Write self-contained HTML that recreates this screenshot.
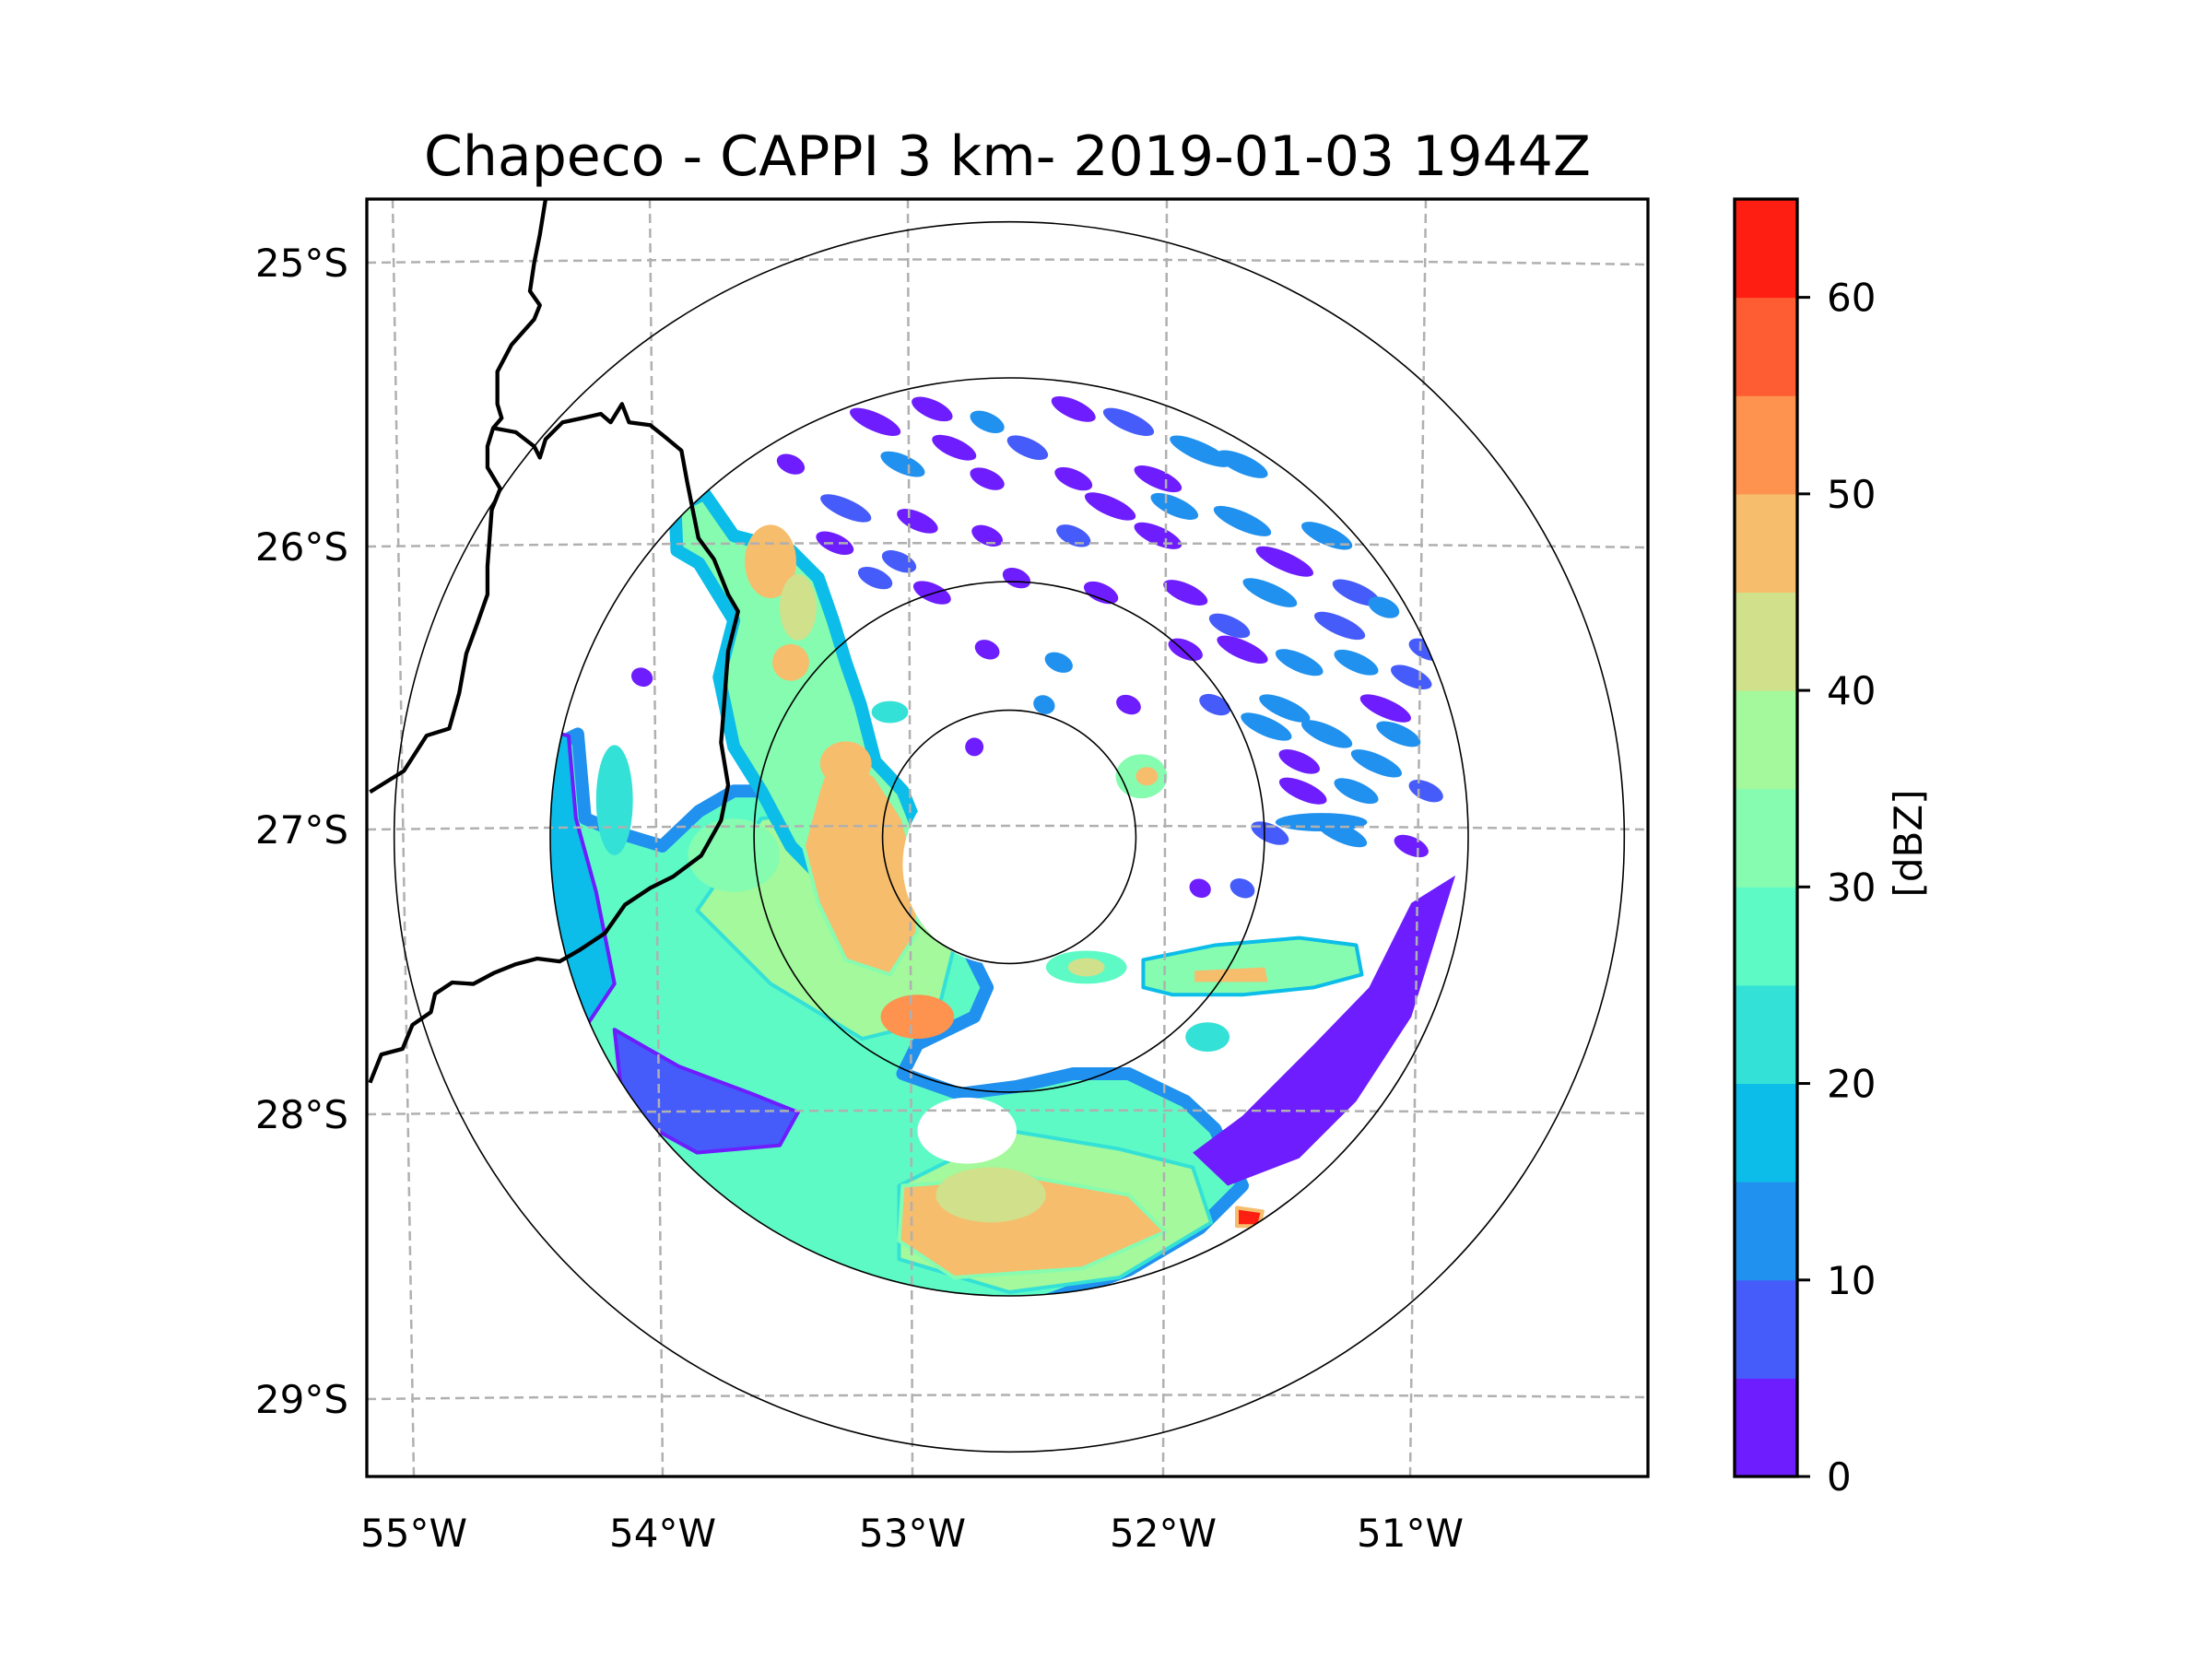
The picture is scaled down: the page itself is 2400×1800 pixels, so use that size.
<!DOCTYPE html>
<html><head><meta charset="utf-8"><style>
html,body{margin:0;padding:0;background:#fff;}
svg{display:block;}
text{font-family:"DejaVu Sans","Liberation Sans",sans-serif;fill:#000;}
</style></head><body>
<svg id="fig" width="2400" height="1800" viewBox="0 0 2400 1800" xmlns="http://www.w3.org/2000/svg">
<rect width="2400" height="1800" fill="#fff"/>
<text x="1093" y="190" font-size="60" text-anchor="middle">Chapeco - CAPPI 3 km- 2019-01-03 1944Z</text>
<defs><clipPath id="radarClip"><circle cx="1095" cy="908" r="498"/></clipPath>
<clipPath id="axClip"><rect x="398" y="216" width="1390" height="1386"/></clipPath></defs>
<g id="echoes" clip-path="url(#radarClip)"></g>
<g id="grid" clip-path="url(#axClip)"></g>
<g id="rings" clip-path="url(#axClip)"></g>
<g clip-path="url(#axClip)">
<g transform="matrix(1.536,0,0,1.531,-1,2)" fill="none" stroke="#000" stroke-width="2.8" stroke-linejoin="round">
<polyline points="386,140 382,165 378,185 375,205 382,215 378,225 362,243 352,262 352,285 355,295 349,302 345,315 345,330 354,345 348,360 345,400 345,420 338,440 330,462 325,490 318,515 302,520 286,545 262,560"/>
<polyline points="349,302 365,305 378,315 382,323 386,310 398,298 412,295 425,292 432,298 440,285 445,298 460,300 470,308 482,318 486,340 490,360 494,380 505,395 515,420 522,432 515,460 512,500 510,525 515,555 510,580 496,605 476,620 460,628 442,640 428,660 410,672 396,680 380,678 365,682 350,688 335,696 320,695 308,703 305,716 292,725 285,742 270,746 262,766"/>
</g></g>
<rect x="398" y="216" width="1390" height="1386" fill="none" stroke="#000" stroke-width="3.3"/>
<g id="ticks"></g>
<g id="cbar"></g>
<text transform="translate(2085,915) rotate(-90)" font-size="42" text-anchor="middle">[dBZ]</text>
</svg>
<script>
// colorbar levels
const levels=[0,5,10,15,20,25,30,35,40,45,50,55,60,65];
const levelColors=["#6d1dfe","#465cfa","#2091ee","#0bbde8","#34e1d6","#5dfac6","#86fcb0","#a3f99b","#d1e08a","#f6bd6c","#fe924f","#fe5c32","#fe1e12"];
const cbarTicks=[0,10,20,30,40,50,60];
// graticule
const latLabels=["25°S","26°S","27°S","28°S","29°S"];
const lonLabels=["55°W","54°W","53°W","52°W","51°W"];
const ringRanges=[69,139,250,335];
// echo polygons: vertices in km east / km north of radar, dBZ value
const polyDbz=[26,3,8,18,36,38,30,48,46,60,32,48];
const polyPts=[
 [[-249,49],[-235,56],[-231,10],[-212,2],[-189,-5],[-169,14],[-150,25],[-127,25],[-89,18],[-58,-5],[-42,-36],[-27,-52],[-12,-82],[-19,-98],[-50,-113],[-58,-129],[-27,-140],[4,-136],[35,-129],[65,-129],[96,-144],[112,-159],[127,-190],[104,-213],[65,-236],[0,-260],[-73,-250],[-135,-220],[-189,-175],[-225,-135],[-255,-82],[-258,-36]],
 [[243,-21],[219,-98],[189,-144],[158,-175],[119,-190],[100,-172],[127,-152],[166,-113],[196,-82],[219,-36]],
 [[-215,-105],[-180,-125],[-140,-140],[-115,-150],[-125,-168],[-170,-172],[-210,-150]],
 [[-260,60],[-240,55],[-236,10],[-225,-30],[-215,-80],[-235,-110],[-262,-80]],
 [[-135,10],[-90,15],[-50,-10],[-30,-60],[-40,-100],[-80,-110],[-130,-80],[-170,-40]],
 [[-60,-190],[0,-160],[60,-170],[100,-180],[110,-210],[60,-240],[0,-248],[-60,-230]],
 [[-182,179],[-166,187],[-150,164],[-119,156],[-104,141],[-96,118],[-89,95],[-81,72],[-73,41],[-58,25],[-46,-5],[-58,-36],[-81,-44],[-119,-5],[-135,25],[-150,49],[-158,87],[-150,118],[-169,149],[-181,156]],
 [[-96,49],[-73,33],[-58,10],[-50,-21],[-50,-52],[-65,-75],[-89,-67],[-104,-36],[-112,-5],[-104,25]],
 [[-58,-190],[10,-185],[65,-195],[85,-215],[40,-235],[-30,-240],[-60,-220]],
 [[124,-202],[138,-204],[136,-212],[124,-212]],
 [[73,-67],[112,-59],[158,-55],[189,-59],[192,-75],[166,-82],[127,-86],[89,-86],[73,-82]],
 [[100,-72],[140,-70],[142,-80],[100,-80]]
];
// elliptical cells: centre km, radii km, dBZ
const cellX=[-130,-119,42,42,72,108,-65,-50,-89,-10,75,-150,-115,-215];
const cellY=[150,95,-71,-71,33,-109,68,-98,40,-195,33,-10,125,20];
const cellRx=[14,10,22,10,14,12,10,20,14,30,6,25,10,10];
const cellRy=[20,10,9,5,12,8,6,12,12,15,5,20,18,30];
const cellDbz=[48,46,28,42,30,20,22,50,46,44,45,34,42,22];
// clear-air gaps (no echo)
const gapX=[-23,-3];const gapY=[-160,-15];const gapRx=[27,55];const gapRy=[18,55];
// NE streak echoes
const streakX=[-73,-42,-12,35,65,104,127,81,35,-12,-58,-89,-50,-12,35,81,127,173,189,142,96,50,4,-42,-73,-12,27,127,158,189,219,173,212,227,189,158,142,181,219,112,96,-104,-200,65,-19,19,127,104,227,204,-119,170,150,200,-30,10,55,90,150,180,205,160,120,140,-95,-60];
const streakY=[226,233,226,233,226,210,203,195,195,195,203,179,172,164,164,164,172,164,133,133,133,133,141,133,141,102,95,102,95,95,87,56,56,25,25,41,2,2,-5,72,102,118,87,72,49,72,-28,-28,102,125,203,8,70,40,212,212,180,180,150,115,70,25,115,60,160,150];
const streakLen=[30,24,20,26,30,36,30,28,22,20,26,30,24,18,20,28,34,30,28,32,26,20,16,22,20,14,16,30,28,26,24,30,26,20,26,24,22,30,20,18,20,16,12,14,10,12,14,12,20,18,16,50,30,30,26,24,30,28,34,30,30,28,24,30,22,20];
const streakDbz=[3,3,12,3,8,14,12,3,3,3,12,8,3,3,8,3,14,12,8,12,3,3,3,3,8,3,12,3,12,14,8,12,14,8,12,3,8,12,3,8,3,3,3,3,3,12,8,3,8,12,3,12,14,12,3,8,3,12,3,8,3,3,8,12,3,8];

const NS='http://www.w3.org/2000/svg';
const CX=1095,CY=908,PXKM=498/250;
const xs=e=>CX+e*PXKM, ys=n=>CY-n*PXKM;
function colorFor(v){for(let i=levels.length-2;i>=0;i--){if(v>=levels[i])return levelColors[i];}return levelColors[0];}
function mk(tag,attrs,parent){const el=document.createElementNS(NS,tag);for(const k in attrs)el.setAttribute(k,attrs[k]);parent.appendChild(el);return el;}
const echoes=document.getElementById('echoes');
for(let i=0;i<streakX.length;i++){
 const el=mk('ellipse',{cx:xs(streakX[i]),cy:ys(streakY[i]),rx:streakLen[i]*PXKM/2,ry:5*PXKM,fill:colorFor(streakDbz[i]),transform:`rotate(${i==51?0:24} ${xs(streakX[i])} ${ys(streakY[i])})`},echoes);
 
 
}
for(let i=0;i<polyPts.length;i++){
 const pts=polyPts[i].map(p=>xs(p[0])+','+ys(p[1])).join(' ');
 const big=(i===0||i===6);
 const el=mk('polygon',{points:pts,fill:colorFor(polyDbz[i]),stroke:colorFor(Math.max(0,polyDbz[i]-15)),'stroke-width':big?14:(polyDbz[i]>5?4:0),'stroke-linejoin':'round'},echoes);
 
 
}
for(let i=0;i<cellX.length;i++){
 const el=mk('ellipse',{cx:xs(cellX[i]),cy:ys(cellY[i]),rx:cellRx[i]*PXKM,ry:cellRy[i]*PXKM,fill:colorFor(cellDbz[i])},echoes);
 
 
}
for(let i=0;i<gapX.length;i++){
 const el=mk('ellipse',{cx:xs(gapX[i]),cy:ys(gapY[i]),rx:gapRx[i]*PXKM,ry:gapRy[i]*PXKM,fill:'#fff'},echoes);
 
 
}
const grid=document.getElementById('grid');
const latY=[285,593,900,1209,1518];
const lonTop=[426,705,985,1266,1547], lonBot=[449,719,990,1262,1530];
for(let i=0;i<latLabels.length;i++){
 const y=latY[i];
 const el=mk('path',{d:`M398 ${y} Q1093 ${y-8} 1788 ${y-(i-2)*1}`,fill:'none',stroke:'#b0b0b0','stroke-width':2.5,'stroke-dasharray':'10,6'},grid);
 
 
}
for(let i=0;i<lonLabels.length;i++){
 const el=mk('line',{x1:lonTop[i],y1:216,x2:lonBot[i],y2:1602,stroke:'#b0b0b0','stroke-width':2.5,'stroke-dasharray':'10,6'},grid);
 
 
}
const rings=document.getElementById('rings');
for(const r of ringRanges){
 const el=mk('circle',{cx:CX,cy:CY,r:r*PXKM,fill:'none',stroke:'#000','stroke-width':1.6},rings);
 
 
}
const ticks=document.getElementById('ticks');
for(let i=0;i<latLabels.length;i++){
 const t=mk('text',{x:378,y:latY[i]+15,'font-size':42,'text-anchor':'end'},ticks);t.textContent=latLabels[i];
 
 
}
for(let i=0;i<lonLabels.length;i++){
 const t=mk('text',{x:lonBot[i],y:1678,'font-size':42,'text-anchor':'middle'},ticks);t.textContent=lonLabels[i];
 
 
}
const cb=document.getElementById('cbar');
const cbTop=216,cbBot=1602,cbX=1882,cbW=68;
const cy=v=>cbBot-(v-levels[0])/(levels[levels.length-1]-levels[0])*(cbBot-cbTop);
for(let i=0;i<levelColors.length;i++){
 const el=mk('rect',{x:cbX,y:cy(levels[i+1]),width:cbW,height:cy(levels[i])-cy(levels[i+1])+0.5,fill:levelColors[i]},cb);
 
 
}
const fr=mk('rect',{x:cbX,y:cbTop,width:cbW,height:cbBot-cbTop,fill:'none',stroke:'#000','stroke-width':3.3},cb);


for(const v of cbarTicks){
 const l=mk('line',{x1:cbX+cbW,x2:cbX+cbW+14,y1:cy(v),y2:cy(v),stroke:'#000','stroke-width':3},cb);
 
 
 const t=mk('text',{x:1982,y:cy(v)+15,'font-size':42},cb);t.textContent=v;
 
 
}
</script>
</body></html>
